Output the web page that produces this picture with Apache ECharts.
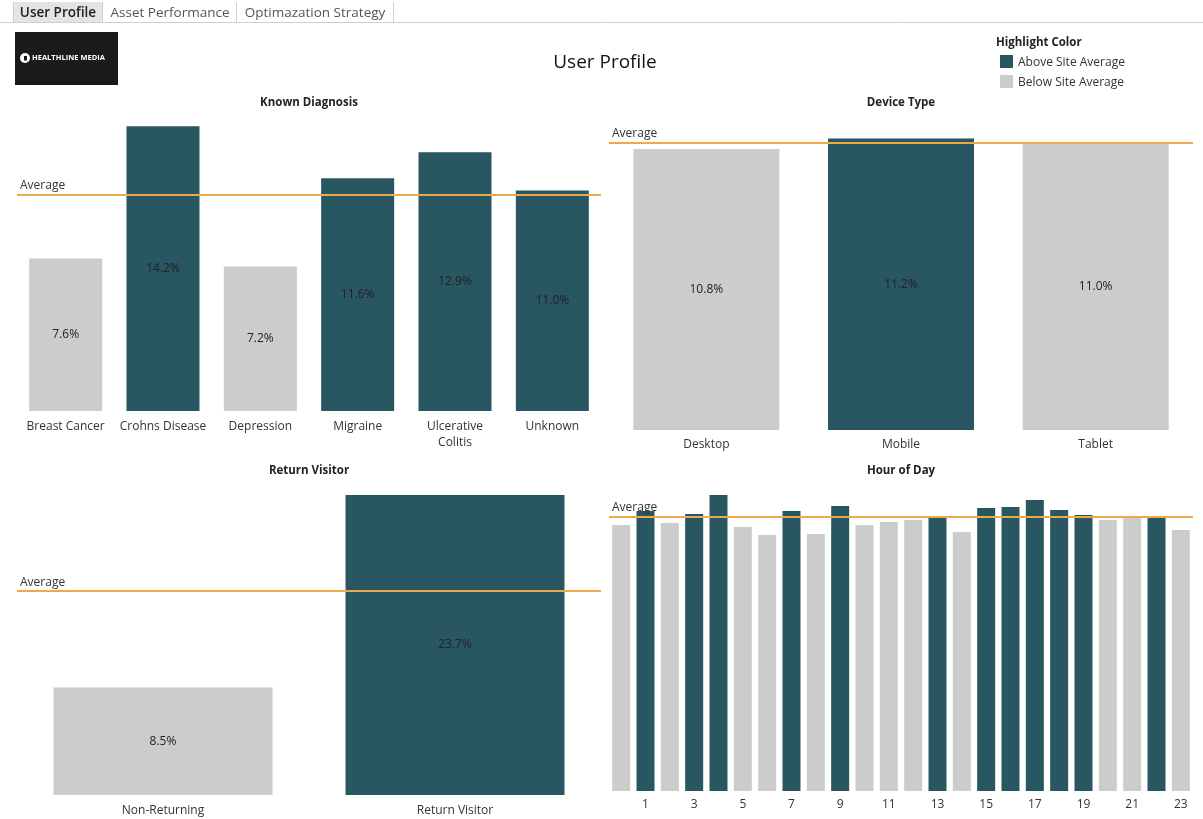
<!DOCTYPE html>
<html>
<head>
<meta charset="utf-8">
<title>User Profile</title>
<script src="https://cdn.jsdelivr.net/npm/echarts@6/dist/echarts.min.js"></script>
<style>
  html, body { margin: 0; padding: 0; background: #fff; }
  #main { width: 1203px; height: 819px; }
</style>
</head>
<body>
<div id="main"></div>
<script>
// data
var diagnosisNames = ['Breast Cancer', 'Crohns Disease', 'Depression', 'Migraine', 'Ulcerative Colitis', 'Unknown'];
var diagnosisValues = [7.6, 14.2, 7.2, 11.6, 12.9, 11.0];
var diagnosisAvg = 10.8;

var deviceNames = ['Desktop', 'Mobile', 'Tablet'];
var deviceValues = [10.8, 11.2, 11.0];
var deviceAvg = 11.03;

var returnNames = ['Non-Returning', 'Return Visitor'];
var returnValues = [8.5, 23.7];
var returnAvg = 16.1;

var hourNames = ['0','1','2','3','4','5','6','7','8','9','10','11','12','13','14','15','16','17','18','19','20','21','22','23'];
var hourValues = [10.64, 11.2, 10.72, 11.08, 11.84, 10.56, 10.24, 11.2, 10.28, 11.4, 10.64, 10.76,
                  10.84, 11.0, 10.36, 11.32, 11.36, 11.64, 11.24, 11.04, 10.84, 10.94, 10.98, 10.44];
var hourAvg = 10.96;

var ABOVE = '#285761';
var BELOW = '#cccccc';
var AVG_COLOR = '#eea94c';
var FONT = '"Open Sans", "Noto Sans", sans-serif';

var chart = echarts.init(document.getElementById('main'));

// color each bar by comparing with its panel average
function colored (values, avg) {
  return values.map(function (v) {
    return { value: v, itemStyle: { color: v > avg ? ABOVE : BELOW } }
  })
}

function avgLine (avg) {
  return {
    silent: true,
    symbol: 'none',
    lineStyle: { color: AVG_COLOR, width: 2, type: 'solid' },
    label: {
      show: true,
      position: 'insideStartTop',
      formatter: 'Average',
      color: '#333',
      fontFamily: FONT,
      fontSize: 12,
      distance: [3, 3]
    },
    emphasis: { disabled: true },
    data: [{ yAxis: avg }]
  }
}

var pctLabel = {
  show: true,
  position: 'inside',
  color: '#222',
  textBorderWidth: 0,
  fontFamily: FONT,
  fontSize: 12,
  formatter: function (p) { return p.value.toFixed(1) + '%' }
}

function catAxis (grid, names, extra) {
  var ax = {
    type: 'category',
    gridIndex: grid,
    data: names,
    axisLine: { show: false },
    axisTick: { show: false },
    axisLabel: {
      interval: 0,
      hideOverlap: false,
      color: '#333',
      fontFamily: FONT,
      fontSize: 12,
      margin: 8,
      lineHeight: 16
    }
  }
  if (extra) Object.assign(ax.axisLabel, extra)
  return ax
}

function valAxis (grid, max) {
  return { type: 'value', gridIndex: grid, min: 0, max: max, show: false, splitLine: { show: false } }
}

function panelTitle (x, y, s) {
  return {
    type: 'text', x: x, y: y,
    style: { text: s, fill: '#222', font: 'bold 11.5px ' + FONT, textAlign: 'center', textVerticalAlign: 'middle' }
  }
}

var option = {
  animation: false,
  grid: [
    { left: 17, top: 114, width: 584, height: 297 },
    { left: 609, top: 126, width: 584, height: 304 },
    { left: 17, top: 483, width: 584, height: 313 },
    { left: 609, top: 483, width: 584, height: 308 }
  ],
  xAxis: [
    catAxis(0, diagnosisNames, {
      formatter: function (v) { return v === 'Ulcerative Colitis' ? 'Ulcerative\nColitis' : v }
    }),
    catAxis(1, deviceNames, { margin: 7 }),
    catAxis(2, returnNames, { margin: 8 }),
    catAxis(3, hourNames, {
      margin: 6,
      interval: function (i) { return i % 2 === 1 }
    })
  ],
  yAxis: [
    valAxis(0, 14.81),
    valAxis(1, 11.68),
    valAxis(2, 24.65),
    valAxis(3, 12.32)
  ],
  series: [
    {
      type: 'bar', xAxisIndex: 0, yAxisIndex: 0, barCategoryGap: '25%',
      data: colored(diagnosisValues, diagnosisAvg), label: pctLabel,
      markLine: avgLine(diagnosisAvg)
    },
    {
      type: 'bar', xAxisIndex: 1, yAxisIndex: 1, barCategoryGap: '25%',
      data: colored(deviceValues, deviceAvg), label: pctLabel,
      markLine: avgLine(deviceAvg)
    },
    {
      type: 'bar', xAxisIndex: 2, yAxisIndex: 2, barCategoryGap: '25%',
      data: colored(returnValues, returnAvg), label: pctLabel,
      markLine: avgLine(returnAvg)
    },
    {
      type: 'bar', xAxisIndex: 3, yAxisIndex: 3, barCategoryGap: '26%',
      data: colored(hourValues, hourAvg),
      markLine: avgLine(hourAvg)
    }
  ],
  graphic: [
    // tab strip
    { type: 'rect', shape: { x: 13, y: 2, width: 89, height: 20 }, style: { fill: '#e4e4e4' } },
    { type: 'line', shape: { x1: 0, y1: 22.5, x2: 1203, y2: 22.5 }, style: { stroke: '#cfcfcf', lineWidth: 1 } },
    { type: 'line', shape: { x1: 13.5, y1: 2, x2: 13.5, y2: 22 }, style: { stroke: '#cfcfcf', lineWidth: 1 } },
    { type: 'line', shape: { x1: 102.5, y1: 2, x2: 102.5, y2: 22 }, style: { stroke: '#cfcfcf', lineWidth: 1 } },
    { type: 'line', shape: { x1: 236.5, y1: 2, x2: 236.5, y2: 22 }, style: { stroke: '#cfcfcf', lineWidth: 1 } },
    { type: 'line', shape: { x1: 393.5, y1: 2, x2: 393.5, y2: 22 }, style: { stroke: '#cfcfcf', lineWidth: 1 } },
    { type: 'text', x: 58, y: 13, style: { text: 'User Profile', fill: '#222', font: '600 13.5px ' + FONT, textAlign: 'center', textVerticalAlign: 'middle' } },
    { type: 'text', x: 170, y: 13, style: { text: 'Asset Performance', fill: '#555', font: '13.5px ' + FONT, textAlign: 'center', textVerticalAlign: 'middle' } },
    { type: 'text', x: 315, y: 13, style: { text: 'Optimazation Strategy', fill: '#555', font: '13.5px ' + FONT, textAlign: 'center', textVerticalAlign: 'middle' } },

    // logo
    { type: 'rect', shape: { x: 15, y: 32, width: 103, height: 53 }, style: { fill: '#1c1b1b' } },
    { type: 'circle', shape: { cx: 25, cy: 58, r: 5 }, style: { fill: '#fff' } },
    { type: 'rect', shape: { x: 24, y: 56, width: 3, height: 4.5 }, style: { fill: '#1c1b1b' } },
    { type: 'text', x: 32, y: 58, style: { text: 'HEALTHLINE MEDIA', fill: '#fff', font: 'bold 7.5px ' + FONT, textAlign: 'left', textVerticalAlign: 'middle' } },

    // main title
    { type: 'text', x: 605, y: 63, style: { text: 'User Profile', fill: '#111', font: '19px ' + FONT, textAlign: 'center', textVerticalAlign: 'middle' } },

    // legend
    { type: 'text', x: 996, y: 43, style: { text: 'Highlight Color', fill: '#222', font: 'bold 11.5px ' + FONT, textAlign: 'left', textVerticalAlign: 'middle' } },
    { type: 'rect', shape: { x: 1000, y: 55, width: 13, height: 13 }, style: { fill: ABOVE } },
    { type: 'text', x: 1018, y: 63, style: { text: 'Above Site Average', fill: '#333', font: '12px ' + FONT, textAlign: 'left', textVerticalAlign: 'middle' } },
    { type: 'rect', shape: { x: 1000, y: 75, width: 13, height: 13 }, style: { fill: BELOW } },
    { type: 'text', x: 1018, y: 83, style: { text: 'Below Site Average', fill: '#333', font: '12px ' + FONT, textAlign: 'left', textVerticalAlign: 'middle' } },

    // panel titles
    panelTitle(309, 103, 'Known Diagnosis'),
    panelTitle(901, 103, 'Device Type'),
    panelTitle(309, 471, 'Return Visitor'),
    panelTitle(901, 471, 'Hour of Day')
  ]
};

chart.setOption(option);
</script>
</body>
</html>
